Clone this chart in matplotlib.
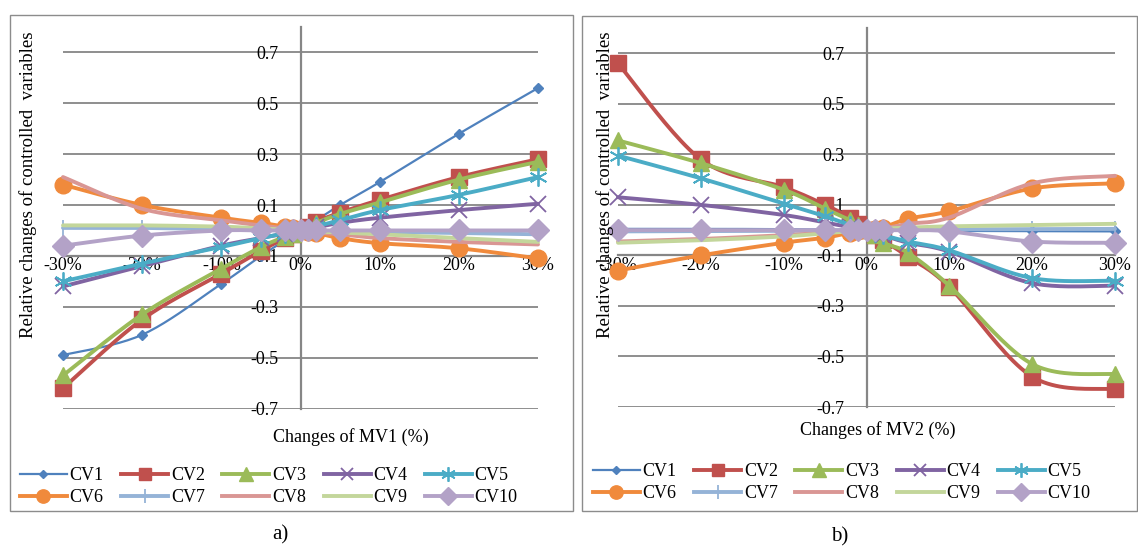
import numpy as np
import matplotlib
matplotlib.use('Agg')
import matplotlib.pyplot as plt
from matplotlib.lines import Line2D
from matplotlib.patches import Rectangle

plt.rcParams['font.family'] = ['Liberation Serif', 'DejaVu Serif']

# x positions (% change of the manipulated variable)
x_pct = [-30, -20, -10, -5, -2, -1, 0, 1, 2, 5, 10, 20, 30]
x_ticks = [-30, -20, -10, 0, 10, 20, 30]
x_ticklabels = ['-30%', '-20%', '-10%', '0%', '10%', '20%', '30%']
y_ticks = [0.7, 0.5, 0.3, 0.1, -0.1, -0.3, -0.5, -0.7]
names = ['CV1', 'CV2', 'CV3', 'CV4', 'CV5', 'CV6', 'CV7', 'CV8', 'CV9', 'CV10']

# panel a) - changes of MV1
cv1_a = [-0.49, -0.41, -0.21, -0.10, -0.04, -0.02, 0, 0.02, 0.04, 0.10, 0.19, 0.38, 0.56]
cv2_a = [-0.62, -0.35, -0.17, -0.08, -0.03, -0.015, 0, 0.015, 0.035, 0.07, 0.12, 0.21, 0.28]
cv3_a = [-0.57, -0.33, -0.15, -0.065, -0.025, -0.012, 0, 0.012, 0.03, 0.065, 0.11, 0.20, 0.27]
cv4_a = [-0.22, -0.14, -0.06, -0.03, -0.012, -0.006, 0, 0.006, 0.012, 0.03, 0.05, 0.08, 0.105]
cv5_a = [-0.20, -0.13, -0.065, -0.03, -0.012, -0.006, 0, 0.008, 0.016, 0.04, 0.08, 0.14, 0.21]
cv6_a = [0.18, 0.10, 0.05, 0.03, 0.015, 0.008, 0, -0.005, -0.01, -0.03, -0.05, -0.07, -0.11]
cv7_a = [0.01, 0.01, 0.005, 0.003, 0.001, 0, 0, 0, -0.001, -0.003, -0.005, -0.01, -0.015]
cv8_a = [0.21, 0.085, 0.04, 0.02, 0.008, 0.004, 0, -0.004, -0.008, -0.015, -0.03, -0.045, -0.055]
cv9_a = [0.02, 0.02, 0.015, 0.008, 0.003, 0.002, 0, -0.002, -0.004, -0.008, -0.015, -0.03, -0.045]
cv10_a = [-0.06, -0.02, 0.0, 0.0, 0, 0, 0, 0, 0, 0, 0, 0, 0]

# panel b) - changes of MV2
cv1_b = [0.005, 0.005, 0.004, 0.002, 0.001, 0, 0, 0, -0.001, -0.002, -0.003, -0.004, -0.005]
cv2_b = [0.66, 0.28, 0.17, 0.10, 0.05, 0.025, 0, -0.02, -0.04, -0.105, -0.225, -0.58, -0.63]
cv3_b = [0.355, 0.265, 0.16, 0.085, 0.04, 0.02, 0, -0.02, -0.05, -0.09, -0.22, -0.53, -0.57]
cv4_b = [0.13, 0.10, 0.06, 0.03, 0.012, 0.006, 0, -0.01, -0.02, -0.05, -0.085, -0.21, -0.22]
cv5_b = [0.295, 0.205, 0.105, 0.055, 0.02, 0.01, 0, -0.01, -0.02, -0.045, -0.08, -0.19, -0.20]
cv6_b = [-0.16, -0.10, -0.05, -0.03, -0.01, -0.005, 0, 0.005, 0.01, 0.045, 0.075, 0.165, 0.185]
cv7_b = [-0.005, -0.004, -0.003, -0.002, -0.001, 0, 0, 0, 0.001, 0.002, 0.003, 0.004, 0.005]
cv8_b = [-0.045, -0.035, -0.02, -0.01, -0.004, -0.002, 0, 0.003, 0.006, 0.025, 0.05, 0.185, 0.215]
cv9_b = [-0.05, -0.04, -0.025, -0.012, -0.005, -0.002, 0, 0.003, 0.006, 0.01, 0.015, 0.02, 0.025]
cv10_b = [0, 0, 0, 0, 0, 0, 0, 0, 0, 0, -0.005, -0.045, -0.05]

series_a = [cv1_a, cv2_a, cv3_a, cv4_a, cv5_a, cv6_a, cv7_a, cv8_a, cv9_a, cv10_a]
series_b = [cv1_b, cv2_b, cv3_b, cv4_b, cv5_b, cv6_b, cv7_b, cv8_b, cv9_b, cv10_b]

styles = [
    dict(color='#4F81BD', marker='D', ms=5, lw=1.6, mew=1),
    dict(color='#C0504D', marker='s', ms=11, lw=2.8, mew=1),
    dict(color='#9BBB59', marker='^', ms=12, lw=2.8, mew=1),
    dict(color='#8064A2', marker='x', ms=11, lw=2.8, mew=1.3),
    dict(color='#4BACC6', marker=(6, 2, 0), ms=13, lw=2.8, mew=1.3),
    dict(color='#F08A3C', marker='o', ms=12, lw=2.8, mew=1),
    dict(color='#95B3D7', marker='|', ms=12, lw=2.8, mew=1.3),
    dict(color='#D99694', marker='None', ms=0, lw=2.8, mew=1),
    dict(color='#C3D69B', marker='None', ms=0, lw=2.8, mew=1),
    dict(color='#B3A2C7', marker='D', ms=11, lw=2.8, mew=1),
]

GRID = '#868686'
W, H = 1138, 546


def smooth(xs, ys, n=24):
    # Excel-like smoothed line (cubic bezier through the points)
    pts = np.column_stack([xs, ys]).astype(float)
    pad = np.vstack([pts[0], pts, pts[-1]])
    t = np.linspace(0, 1, n)[:, None]
    out = []
    for i in range(len(pts) - 1):
        p0, p1, p2, p3 = pad[i], pad[i + 1], pad[i + 2], pad[i + 3]
        c1 = p1 + (p2 - p0) / 6
        c2 = p2 - (p3 - p1) / 6
        seg = (1 - t)**3 * p1 + 3 * (1 - t)**2 * t * c1 + 3 * (1 - t) * t**2 * c2 + t**3 * p2
        out.append(seg if i == 0 else seg[1:])
    return np.vstack(out)


def panel(fig, rect, series, xlabel, xlab_pos, ylab_pos, leg_anchor, letter, letter_pos, box):
    l, t, r, b = rect
    ax = fig.add_axes([l / W, (H - b) / H, (r - l) / W, (b - t) / H])
    ax.set_xlim(-30, 30)
    ax.set_ylim(-0.7, 0.8)
    ax.patch.set_alpha(0)
    for v in y_ticks:
        ax.axhline(v, color=GRID, lw=1.3, zorder=1)
    for s in ['top', 'right']:
        ax.spines[s].set_visible(False)
    ax.spines['left'].set_position(('data', 0))
    ax.spines['bottom'].set_position(('data', -0.1))
    for s in ['left', 'bottom']:
        ax.spines[s].set_color(GRID)
        ax.spines[s].set_linewidth(1.6)
        ax.spines[s].set_zorder(1.5)
    ax.set_yticks(y_ticks)
    ax.set_yticklabels([f'{v:.1f}' for v in y_ticks])
    ax.set_xticks(x_ticks)
    ax.set_xticklabels(x_ticklabels)
    ax.tick_params(axis='y', length=0, pad=16, labelsize=13)
    ax.tick_params(axis='x', length=0, pad=1, labelsize=13)

    handles = []
    for k, (ys, st) in enumerate(zip(series, styles)):
        cur = smooth(x_pct, ys)
        ax.plot(cur[:, 0], cur[:, 1], color=st['color'], lw=st['lw'],
                solid_capstyle='round', zorder=3 + k * 0.1, clip_on=False)
        ax.plot(x_pct, ys, linestyle='none', marker=st['marker'], ms=st['ms'],
                color=st['color'], mec=st['color'], mew=st['mew'],
                zorder=3.05 + k * 0.1, clip_on=False)
        handles.append(Line2D([], [], color=st['color'], lw=st['lw'],
                              marker=st['marker'], ms=st['ms'] * 0.8,
                              mew=st['mew'], mec=st['color']))

    fig.text(xlab_pos[0] / W, 1 - xlab_pos[1] / H, xlabel, ha='center', va='center', fontsize=13)
    fig.text(ylab_pos[0] / W, 1 - ylab_pos[1] / H, 'Relative changes of controlled  variables',
             ha='center', va='center', rotation=90, fontsize=13.5)

    order = [0, 5, 1, 6, 2, 7, 3, 8, 4, 9]
    fig.legend([handles[i] for i in order], [names[i] for i in order], ncol=5,
               loc='upper left', bbox_to_anchor=(leg_anchor[0] / W, 1 - leg_anchor[1] / H),
               frameon=False, fontsize=13, handlelength=2.6, handletextpad=0.15,
               columnspacing=0.97, labelspacing=0.3, borderpad=0, borderaxespad=0)

    fig.text(letter_pos[0] / W, 1 - letter_pos[1] / H, letter, ha='center', va='center', fontsize=15)
    bx0, by0, bx1, by1 = box
    fig.patches.append(Rectangle((bx0 / W, 1 - by1 / H), (bx1 - bx0) / W, (by1 - by0) / H,
                                 transform=fig.transFigure, fill=False,
                                 edgecolor='#8c8c8c', lw=1.0))
    return ax


fig = plt.figure(figsize=(W / 100, H / 100), dpi=100)

panel(fig, (63, 27, 538, 408.5), series_a, 'Changes of MV1 (%)', (351, 437), (28, 185),
      (20, 467), 'a)', (280, 535), (10, 15, 573, 511))
panel(fig, (618, 28, 1115, 407), series_b, 'Changes of MV2 (%)', (878, 430), (605, 185),
      (593, 463), 'b)', (840, 537), (582, 16, 1137, 511))

fig.savefig('out.png', dpi=100)
